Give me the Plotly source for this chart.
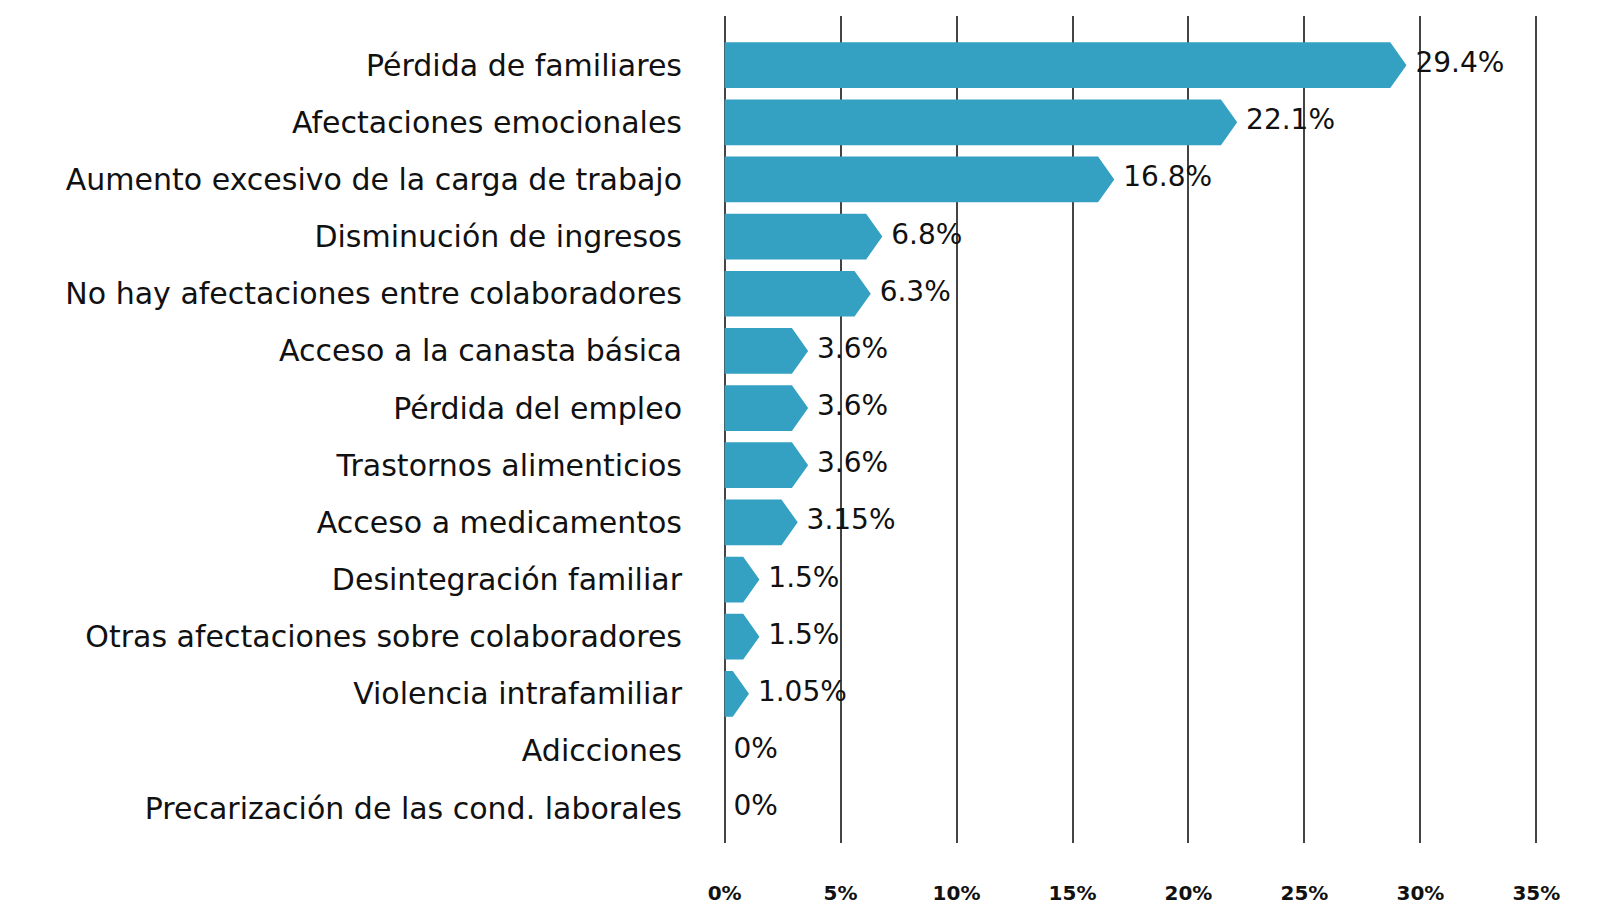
import plotly.graph_objects as go

categorias = [
    "Pérdida de familiares",
    "Afectaciones emocionales",
    "Aumento excesivo de la carga de trabajo",
    "Disminución de ingresos",
    "No hay afectaciones entre colaboradores",
    "Acceso a la canasta básica",
    "Pérdida del empleo",
    "Trastornos alimenticios",
    "Acceso a medicamentos",
    "Desintegración familiar",
    "Otras afectaciones sobre colaboradores",
    "Violencia intrafamiliar",
    "Adicciones",
    "Precarización de las cond. laborales",
]
valores = [29.4, 22.1, 16.8, 6.8, 6.3, 3.6, 3.6, 3.6, 3.15, 1.5, 1.5, 1.05, 0, 0]
ticks_x = [0, 5, 10, 15, 20, 25, 30, 35]

COLOR = "#34A0C2"
FONT = "DejaVu Sans"
half = 0.4     # half bar height (category units)
punta = 0.7    # arrow tip length (% units)

# arrow-shaped bars as filled polygons
xs, ys = [], []
for i, v in enumerate(valores):
    if v <= 0:
        continue
    t = min(punta, v)
    xs += [0, v - t, v, v - t, 0, 0, None]
    ys += [i - half, i - half, i, i + half, i + half, i - half, None]

fig = go.Figure()
fig.add_trace(go.Scatter(
    x=xs, y=ys, mode="lines", fill="toself", fillcolor=COLOR,
    line=dict(width=0, color=COLOR), hoverinfo="skip", showlegend=False,
))
fig.add_trace(go.Scatter(
    x=valores, y=list(range(len(valores))), mode="text",
    text=[" " + f"{v:g}%" for v in valores], textposition="middle right",
    textfont=dict(family=FONT, size=28, color="#111111"),
    showlegend=False, hoverinfo="skip",
))

fig.update_layout(
    width=1598, height=905,
    margin=dict(l=712, r=65, t=8, b=64),
    plot_bgcolor="white", paper_bgcolor="white",
    font=dict(family=FONT, color="#111111"),
)
fig.update_xaxes(
    range=[-0.2, 35.2], tickvals=ticks_x, ticktext=[f"{t}%" for t in ticks_x],
    showgrid=True, gridcolor="#444444", gridwidth=2, zeroline=False,
    showline=False, ticks="", ticklabelstandoff=36,
    tickfont=dict(family=FONT, size=20, color="#111111", weight="bold"),
)
fig.update_yaxes(
    range=[13.61, -0.86], tickvals=list(range(len(categorias))), ticktext=categorias,
    showgrid=False, zeroline=False, showline=False, ticks="", ticklabelstandoff=37,
    tickfont=dict(family=FONT, size=30, color="#111111"),
)

fig.write_html("out.html")
